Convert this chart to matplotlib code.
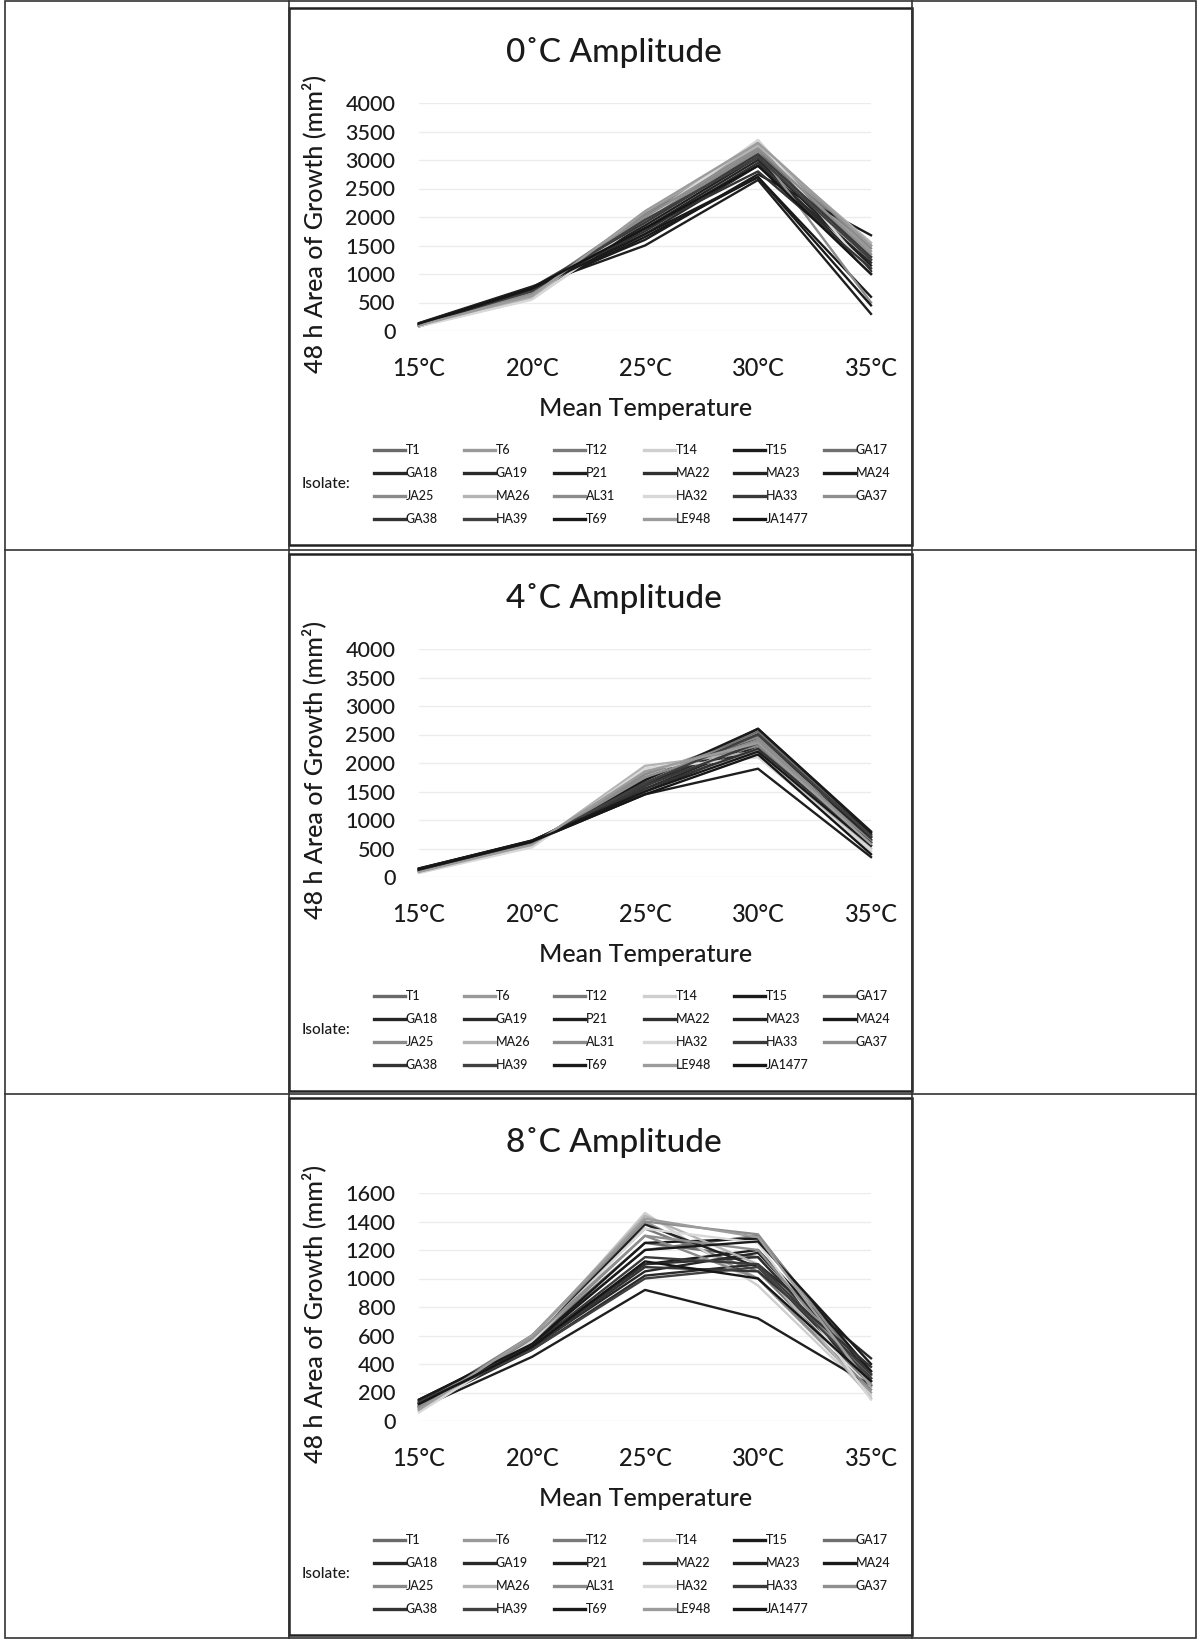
import matplotlib
matplotlib.use('Agg')
import matplotlib.pyplot as plt
from matplotlib.lines import Line2D
from matplotlib.patches import Rectangle

plt.rcParams['font.family'] = ['Lato', 'DejaVu Sans']
plt.rcParams['font.weight'] = 'medium'
plt.rcParams['text.color'] = '#1a1a1a'
plt.rcParams['xtick.color'] = '#1a1a1a'
plt.rcParams['ytick.color'] = '#1a1a1a'

# --- data ---
temps = [15, 20, 25, 30, 35]
temp_labels = ['15°C', '20°C', '25°C', '30°C', '35°C']

isolates = ['T1', 'T6', 'T12', 'T14', 'T15', 'GA17',
            'GA18', 'GA19', 'P21', 'MA22', 'MA23', 'MA24',
            'JA25', 'MA26', 'AL31', 'HA32', 'HA33', 'GA37',
            'GA38', 'HA39', 'T69', 'LE948', 'JA1477']

# greyscale of the scanned colours, one per isolate
colors = ['#6a6a6a', '#9a9a9a', '#7a7a7a', '#cfcfcf', '#1c1c1c', '#707070',
          '#262626', '#2a2a2a', '#1e1e1e', '#303030', '#222222', '#1a1a1a',
          '#8a8a8a', '#b4b4b4', '#8c8c8c', '#d8d8d8', '#3a3a3a', '#8f8f8f',
          '#333333', '#404040', '#1a1a1a', '#9c9c9c', '#161616']

# 48 h area of growth (mm2) per isolate at 15,20,25,30,35 C
amp0 = [[100, 640, 1950, 3150, 1250], [110, 600, 2000, 3250, 1400],
        [120, 700, 2050, 3100, 1500], [90, 560, 1900, 3350, 1100],
        [130, 760, 1600, 2750, 1680], [100, 680, 2000, 3200, 1300],
        [120, 720, 1800, 3000, 1050], [90, 700, 1700, 2900, 1200],
        [140, 780, 1500, 2650, 300], [110, 740, 1750, 2950, 1000],
        [100, 720, 1850, 3050, 1150], [80, 700, 1650, 2700, 600],
        [100, 600, 2050, 3300, 1450], [90, 580, 2100, 3250, 1550],
        [120, 650, 1950, 3150, 500], [80, 550, 1950, 3350, 1000],
        [130, 760, 1900, 3100, 1300], [110, 660, 2000, 3200, 1350],
        [100, 730, 1800, 2800, 1100], [120, 700, 1950, 3050, 1250],
        [110, 740, 1700, 2700, 450], [100, 620, 2100, 3300, 1500],
        [130, 760, 1800, 2900, 1000]]

amp4 = [[110, 600, 1650, 2450, 700], [90, 560, 1800, 2500, 650],
        [100, 580, 1750, 2400, 600], [80, 540, 1900, 2150, 450],
        [150, 630, 1600, 2600, 800], [120, 600, 1700, 2550, 750],
        [130, 620, 1550, 2350, 700], [140, 640, 1500, 2300, 650],
        [120, 620, 1450, 1900, 350], [110, 600, 1600, 2450, 750],
        [100, 590, 1650, 2500, 700], [130, 610, 1700, 2600, 780],
        [90, 560, 1850, 2300, 550], [80, 540, 1950, 2200, 500],
        [100, 580, 1800, 2450, 600], [70, 520, 1900, 2100, 480],
        [120, 610, 1600, 2350, 650], [110, 590, 1750, 2400, 620],
        [140, 630, 1550, 2250, 600], [100, 600, 1650, 2500, 720],
        [150, 640, 1500, 2200, 550], [90, 570, 1850, 2350, 580],
        [130, 620, 1450, 2150, 400]]

amp8 = [[100, 560, 1250, 1150, 300], [80, 580, 1400, 1000, 200],
        [110, 600, 1350, 1050, 250], [70, 570, 1460, 950, 180],
        [150, 540, 1100, 1200, 350], [120, 550, 1200, 1300, 320],
        [130, 520, 1050, 1180, 330], [100, 500, 1020, 1100, 440],
        [90, 450, 920, 720, 250], [110, 520, 1100, 1150, 300],
        [140, 560, 1380, 1080, 280], [130, 540, 1250, 1280, 350],
        [100, 560, 1300, 1000, 220], [70, 590, 1440, 1100, 160],
        [90, 600, 1400, 1310, 280], [60, 560, 1350, 1250, 150],
        [140, 530, 1150, 1100, 330], [110, 580, 1300, 1200, 260],
        [120, 510, 1080, 1050, 380], [130, 500, 1000, 1080, 300],
        [150, 540, 1200, 1260, 400], [80, 600, 1420, 1290, 240],
        [120, 520, 1120, 1000, 280]]

panels = [('0˚C Amplitude', amp0, 4000, 500),
          ('4˚C Amplitude', amp4, 4000, 500),
          ('8˚C Amplitude', amp8, 1600, 200)]
box_tops = [8, 554, 1098]

W, H = 1197, 1639
fig = plt.figure(figsize=(W / 100, H / 100), dpi=100)


def fx(px):
    return px / W


def fy(py):
    return 1 - py / H


# table frame
fig.add_artist(Rectangle((fx(5), fy(1638)), fx(1196) - fx(5), (1637) / H,
                         fill=False, ec='#333333', lw=1.2))
for ysep in [550, 1094]:
    fig.add_artist(Line2D([fx(5), fx(1196)], [fy(ysep), fy(ysep)], color='#333333', lw=1.2))
for xsep in [289, 912]:
    fig.add_artist(Line2D([fx(xsep), fx(xsep)], [fy(1), fy(1638)], color='#333333', lw=1.2))

for (title, data, ymax, step), top in zip(panels, box_tops):
    # chart box
    fig.add_artist(Rectangle((fx(289), fy(top + 537)), fx(912) - fx(289), 537 / H,
                             fill=False, ec='#222222', lw=1.8))

    ax = fig.add_axes([fx(419), fy(top + 323), fx(871) - fx(419), (323 - 95) / H])
    for name, col, vals in zip(isolates, colors, data):
        ax.plot(temps, vals, color=col, lw=1.7, clip_on=False, label=name)
    ax.set_xlim(15, 35)
    ax.set_ylim(0, ymax)
    ax.set_xticks(temps)
    ax.set_xticklabels(temp_labels, fontsize=17)
    ax.set_yticks(range(0, ymax + 1, step))
    ax.tick_params(axis='y', length=0, pad=17, labelsize=15.5)
    ax.tick_params(axis='x', length=0, pad=19)
    ax.grid(axis='y', color='#ececec', lw=1)
    ax.set_axisbelow(True)
    for s in ax.spines.values():
        s.set_visible(False)

    fig.text(fx(614), fy(top + 44), title, ha='center', va='center', fontsize=24)
    fig.text(fx(314), fy(top + 216), '48 h Area of Growth (mm²)', rotation=90,
             ha='center', va='center', fontsize=18)
    fig.text(fx(646), fy(top + 400), 'Mean Temperature', ha='center', va='center', fontsize=18)

    # legend, 6 per row
    fig.text(fx(302), fy(top + 476), 'Isolate:', ha='left', va='center', fontsize=11)
    for k, (name, col) in enumerate(zip(isolates, colors)):
        r, c = divmod(k, 6)
        x0 = 374 + 90 * c
        yy = top + 442 + 23 * r
        fig.add_artist(Line2D([fx(x0), fx(x0 + 31)], [fy(yy), fy(yy)], color=col, lw=2.4))
        fig.text(fx(x0 + 32), fy(yy), name, ha='left', va='center', fontsize=9)

fig.savefig('out.png', dpi=100)
